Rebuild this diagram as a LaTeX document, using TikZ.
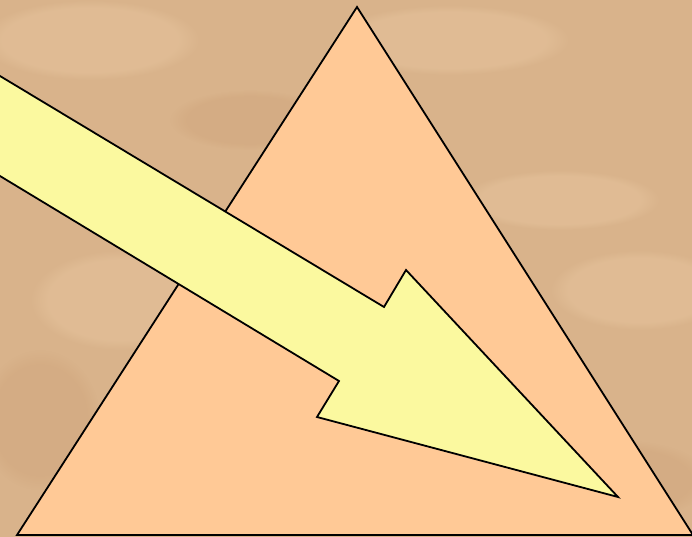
\documentclass[tikz,border=0pt]{standalone}
\usepackage{tikz}
\usetikzlibrary{fadings}
\definecolor{sandcolor}{HTML}{D9B38B}
\definecolor{sandlight}{HTML}{E6C39C}
\definecolor{sanddark}{HTML}{D1A77E}
\definecolor{prismcolor}{HTML}{FFC996}
\definecolor{beamcolor}{HTML}{FBF99F}
\tikzset{
  sand patch/.style={fill=sandlight, fill opacity=0.55, path fading=circle with fuzzy edge 20 percent},
  sand shade/.style={fill=sanddark, fill opacity=0.5, path fading=circle with fuzzy edge 20 percent},
  prism face/.style={draw=black, fill=prismcolor, line width=1.8pt, line join=miter},
  beam arrow/.style={draw=black, fill=beamcolor, line width=1.8pt, line join=miter}
}

\begin{document}
\begin{tikzpicture}[x=1pt,y=-1pt]
    % background
    \fill[sandcolor] (0,0) rectangle (692,537);
    \useasboundingbox (0,0) rectangle (692,537);
    \begin{scope}
        \clip (0,0) rectangle (692,537);
        \fill[sand patch] (90,40) ellipse (110 and 40);
        \fill[sand patch] (450,40) ellipse (120 and 35);
        \fill[sand patch] (640,290) ellipse (90 and 40);
        \fill[sand patch] (560,200) ellipse (100 and 30);
        \fill[sand patch] (120,300) ellipse (90 and 50);
        \fill[sand shade] (620,480) ellipse (90 and 40);
        \fill[sand shade] (40,420) ellipse (60 and 70);
        \fill[sand shade] (250,120) ellipse (80 and 30);

        % prism
        \coordinate (prism-apex) at (357,7);
        \coordinate (prism-left) at (17,535);
        \coordinate (prism-right) at (693,535);
        \path[prism face] (prism-apex) -- (prism-left) -- (prism-right) -- cycle;

        % arrow
        \coordinate (beam-top) at (0,76);
        \coordinate (beam-notch-top) at (384,307);
        \coordinate (beam-barb-top) at (406,270);
        \coordinate (beam-tip) at (618,497);
        \coordinate (beam-barb-bottom) at (317,417);
        \coordinate (beam-notch-bottom) at (339,381);
        \coordinate (beam-bottom) at (0,176);
        \path[beam arrow] (-5,73) -- (beam-notch-top) -- (beam-barb-top)
            -- (beam-tip) -- (beam-barb-bottom) -- (beam-notch-bottom)
            -- (-5,173) -- cycle;
    \end{scope}
\end{tikzpicture}
\end{document}
